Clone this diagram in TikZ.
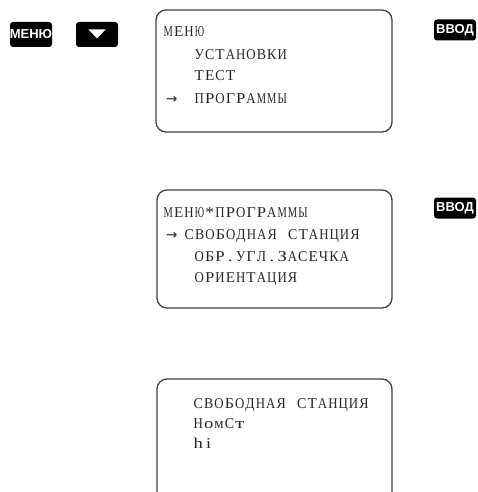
\documentclass[tikz,border=0pt]{standalone}
\usepackage{fontspec}
\usepackage{graphicx}
\newfontfamily\lcdfont{Liberation Serif}
\newfontfamily\keyfont{Liberation Sans}
\newfontfamily\arrowfont{DejaVu Sans}
\ExplSyntaxOn
\dim_new:N \l_lcd_w_dim
\box_new:N \l_lcd_box
\NewDocumentCommand\lcdtext{m}{
  \str_map_inline:nn {#1} {
    \hbox_set:Nn \l_lcd_box {##1}
    \dim_set:Nn \l_lcd_w_dim {\box_wd:N \l_lcd_box}
    \dim_compare:nNnTF {\l_lcd_w_dim} > {5pt}
      {\box_scale:Nnn \l_lcd_box {\fp_eval:n {9.3 / \dim_to_decimal_in_unit:nn {\l_lcd_w_dim}{1pt}}} {1}}
      {\box_scale:Nnn \l_lcd_box {1.2} {1}}
    \makebox[10.35pt][c]{\box_use:N \l_lcd_box}
  }
}
\ExplSyntaxOff
\tikzset{
  screen/.style={draw=black!75, line width=1.3pt, rounded corners=10pt},
  keybox/.style={fill=black, rounded corners=3pt, inner sep=0pt},
  keytext/.style={text=white, font=\keyfont\bfseries\fontsize{13}{13}\selectfont, inner sep=0pt},
  lcd/.style={anchor=base west, inner sep=0pt, text=black!85, font=\lcdfont\fontsize{15}{15}\selectfont},
  lcdarrow/.style={anchor=base west, inner sep=0pt, text=black!85, font=\arrowfont\fontsize{13.5}{13.5}\selectfont}
}
\begin{document}
\begin{tikzpicture}[x=1pt,y=-1pt]
\useasboundingbox (0,0) rectangle (478,492);
\clip (0,0) rectangle (478,492);

% keys
\node[keybox, minimum width=42pt, minimum height=25pt] (kmenu) at (31,34.5) {};
\node[keytext] (kmenut) at (kmenu.center) {МЕНЮ};
\node[keybox, minimum width=42pt, minimum height=25pt] (kdown) at (97,34.5) {};
\fill[white] (88.5,29.5) -- (105.5,29.5) -- (97,38.5) -- cycle;
\node[keybox, minimum width=42pt, minimum height=21pt] (kenter1) at (455,30) {};
\node[keytext] (kenter1t) at (kenter1.center) {ВВОД};
\node[keybox, minimum width=42pt, minimum height=21pt] (kenter2) at (455,208) {};
\node[keytext] (kenter2t) at (kenter2.center) {ВВОД};

% screen 1
\draw[screen] (156,10) rectangle (392,132);
\node[lcd] (s1a) at (163,37) {\lcdtext{МЕНЮ}};
\node[lcd] (s1b) at (194,60) {\lcdtext{УСТАНОВКИ}};
\node[lcd] (s1c) at (194,81) {\lcdtext{ТЕСТ}};
\node[lcdarrow] (s1d) at (166,103) {→};
\node[lcd] (s1e) at (194,103) {\lcdtext{ПРОГРАММЫ}};

% screen 2
\draw[screen] (157,190) rectangle (392,308);
\node[lcd] (s2a) at (163,217) {\lcdtext{МЕНЮ*ПРОГРАММЫ}};
\node[lcdarrow] (s2b) at (166,239) {→};
\node[lcd] (s2c) at (184,239) {\lcdtext{СВОБОДНАЯ СТАНЦИЯ}};
\node[lcd] (s2d) at (194,261) {\lcdtext{ОБР.УГЛ.ЗАСЕЧКА}};
\node[lcd] (s2e) at (194,282) {\lcdtext{ОРИЕНТАЦИЯ}};

% screen 3
\draw[screen] (157,379) rectangle (392,520);
\node[lcd] (s3a) at (193,408.5) {\lcdtext{СВОБОДНАЯ СТАНЦИЯ}};
\node[lcd] (s3b) at (193,428.5) {\lcdtext{НомСт}};
\node[lcd] (s3c) at (193,448) {\lcdtext{hi}};
\end{tikzpicture}
\end{document}
